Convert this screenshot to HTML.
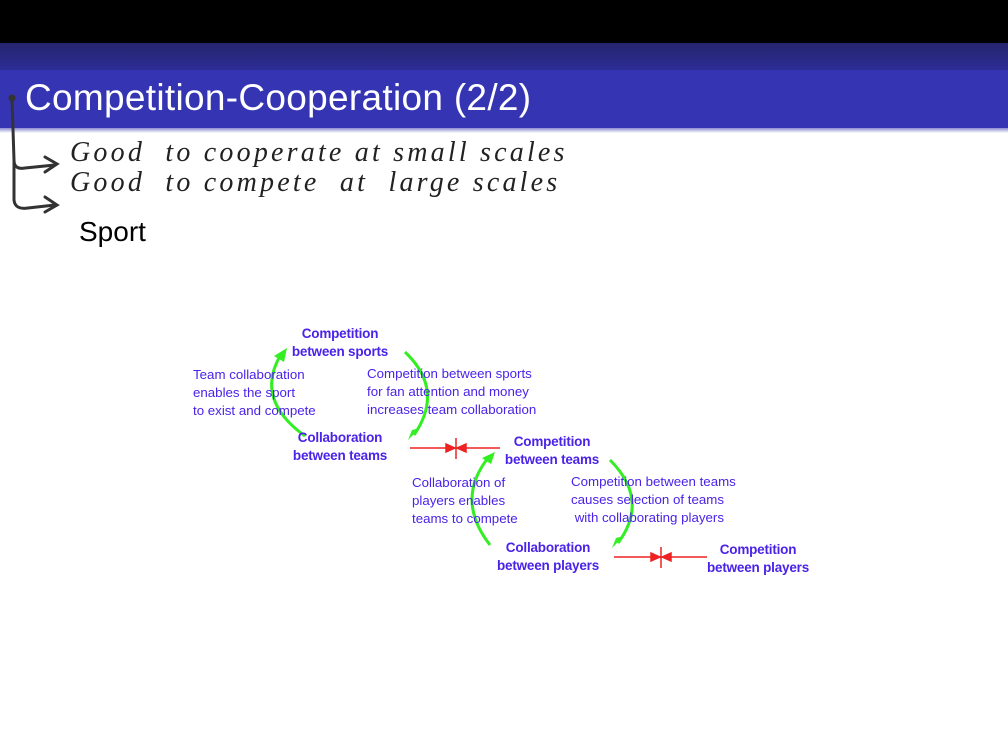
<!DOCTYPE html>
<html><head><meta charset="utf-8"><style>
html,body{margin:0;padding:0;}
body{width:1008px;height:756px;position:relative;overflow:hidden;background:#fff;font-family:"Liberation Sans",sans-serif;}
.t{position:absolute;}
.n{position:absolute;color:#4a22e8;font-weight:bold;font-size:13.5px;text-align:center;line-height:18px;white-space:nowrap;letter-spacing:-0.2px;}
.c{position:absolute;color:#4a22e8;font-size:13.3px;line-height:18px;white-space:nowrap;}
.h{position:absolute;font-family:"Liberation Serif",serif;font-style:italic;font-size:28px;color:#222;white-space:nowrap;letter-spacing:3.2px;}
</style></head><body>
<div style="position:absolute;left:0;top:0;width:1008px;height:43px;background:#000"></div>
<div style="position:absolute;left:0;top:43px;width:1008px;height:27px;background:linear-gradient(#25256e,#2d2d96)"></div>
<div style="position:absolute;left:0;top:70px;width:1008px;height:58px;background:#3535b4"></div>
<div style="position:absolute;left:0;top:128px;width:1008px;height:5px;background:linear-gradient(#8a8ad0,#fff)"></div>
<div class="t" style="left:25px;top:77px;font-size:37px;color:#fff;white-space:nowrap;letter-spacing:0.3px;">Competition-Cooperation (2/2)</div>
<div class="h" style="left:70px;top:137px;">Good &nbsp;to cooperate at small scales</div>
<div class="h" style="left:70px;top:167px;">Good &nbsp;to compete &nbsp;at &nbsp;large scales</div>
<div class="t" style="left:79px;top:216px;font-size:28px;color:#000;">Sport</div>
<svg width="1008" height="756" style="position:absolute;left:0;top:0">
<g fill="none" stroke="#333" stroke-width="3" stroke-linecap="round">
<circle cx="12" cy="98" r="2" fill="#333"/>
<path d="M12 98 L14 160 Q14 170 25 168 L55 165"/>
<path d="M45 157 L57 164 L45 172"/>
<path d="M14 160 L14 200 Q15 210 28 208 L55 205"/>
<path d="M45 197 L57 205 L45 212"/>
</g>
<g fill="none" stroke="#33ee22" stroke-width="3">
<path d="M305 436 Q255 400 280 356"/>
<path d="M405 352 Q445 390 414 435"/>
<path d="M490 545 Q455 500 488 458"/>
<path d="M610 460 Q650 500 618 543"/>
</g>
<g fill="#33ee22">
<polygon points="287,348 274,356 284,362"/>
<polygon points="408,440 420,428 412,430"/>
<polygon points="495,452 482,458 491,464"/>
<polygon points="612,548 624,536 616,538"/>
</g>
<g stroke="#ee2222" stroke-width="1.5" fill="#ee2222">
<line x1="410" y1="448" x2="500" y2="448"/><line x1="456" y1="438" x2="456" y2="459"/>
<polygon points="455,448 446,444 446,452"/><polygon points="457,448 466,444 466,452"/>
<line x1="614" y1="557" x2="707" y2="557"/><line x1="661" y1="547" x2="661" y2="568"/>
<polygon points="660,557 651,553 651,561"/><polygon points="662,557 671,553 671,561"/>
</g>
</svg>
<div class="n" style="left:280px;top:325px;width:120px;">Competition<br>between sports</div>
<div class="n" style="left:280px;top:429px;width:120px;">Collaboration<br>between teams</div>
<div class="n" style="left:492px;top:433px;width:120px;">Competition<br>between teams</div>
<div class="n" style="left:488px;top:539px;width:120px;">Collaboration<br>between players</div>
<div class="n" style="left:698px;top:541px;width:120px;">Competition<br>between players</div>
<div class="c" style="left:193px;top:366px;">Team collaboration<br>enables the sport<br>to exist and compete</div>
<div class="c" style="left:367px;top:365px;">Competition between sports<br>for fan attention and money<br>increases team collaboration</div>
<div class="c" style="left:412px;top:474px;">Collaboration of<br>players enables<br>teams to compete</div>
<div class="c" style="left:571px;top:473px;">Competition between teams<br>causes selection of teams<br>&nbsp;with collaborating players</div>
</body></html>
